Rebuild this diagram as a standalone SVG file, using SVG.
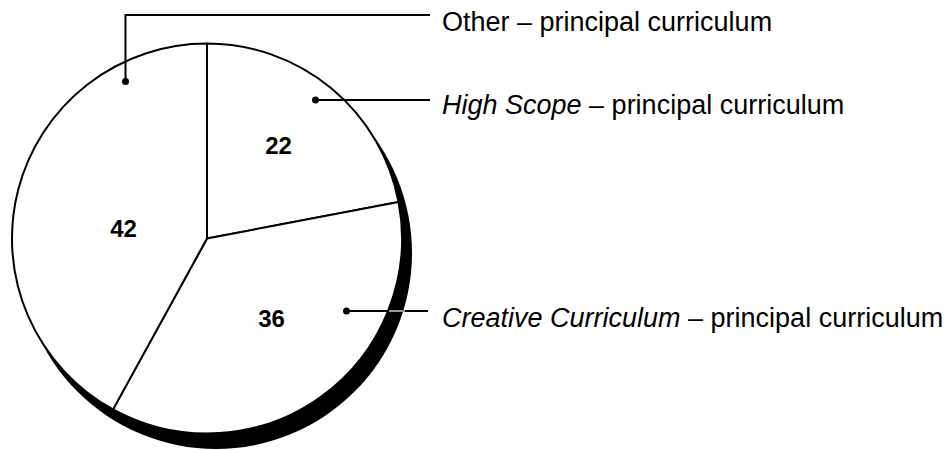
<svg xmlns="http://www.w3.org/2000/svg" width="951" height="450" viewBox="0 0 951 450">
<style>
  .slice{fill:#fff;stroke:#000;stroke-width:2;stroke-linejoin:round}
  .val{font-family:"Liberation Sans",Arial,sans-serif;font-size:24px;font-weight:bold;text-anchor:middle;fill:#000}
  .lbl{font-family:"Liberation Sans",Arial,sans-serif;font-size:27px;fill:#000}
  .lead{fill:none;stroke:#000;stroke-width:2}
  .dot{fill:#000}
</style>
<rect width="951" height="450" fill="#fff"/>
<g id="shadow">
  <circle cx="216" cy="253" r="196" fill="#000"/>
</g>
<g id="slice-highscope">
  <path class="slice" d="M207,238.5 L207,43.5 A195,195 0 0 1 398.55,201.96 Z"/>
  <text class="val" x="278.5" y="154">22</text>
</g>
<g id="slice-creative">
  <path class="slice" d="M207,238.5 L398.55,201.96 A195,195 0 0 1 113.06,409.38 Z"/>
  <text class="val" x="271.5" y="327">36</text>
</g>
<g id="slice-other">
  <path class="slice" d="M207,238.5 L113.06,409.38 A195,195 0 0 1 207,43.5 Z"/>
  <text class="val" x="123.5" y="237">42</text>
</g>
<g id="connectors">
  <polyline class="lead" points="125.5,81.5 125.5,15 430,15"/>
  <circle class="dot" cx="125.5" cy="81.5" r="3.5"/>
  <line class="lead" x1="315.5" y1="100" x2="430" y2="100"/>
  <circle class="dot" cx="315.5" cy="100" r="3.5"/>
  <line class="lead" x1="346.5" y1="311" x2="428" y2="311"/>
  <line x1="389" y1="311" x2="405" y2="311" stroke="#fff" stroke-width="1.2"/>
  <circle class="dot" cx="346.5" cy="311" r="3.5"/>
</g>
<g id="label-other">
  <text class="lbl" x="442" y="31">Other – principal curriculum</text>
</g>
<g id="label-highscope">
  <text class="lbl" x="442" y="114"><tspan font-style="italic">High Scope</tspan> – principal curriculum</text>
</g>
<g id="label-creative">
  <text class="lbl" x="442" y="327"><tspan font-style="italic">Creative Curriculum</tspan> – principal curriculum</text>
</g>
</svg>
